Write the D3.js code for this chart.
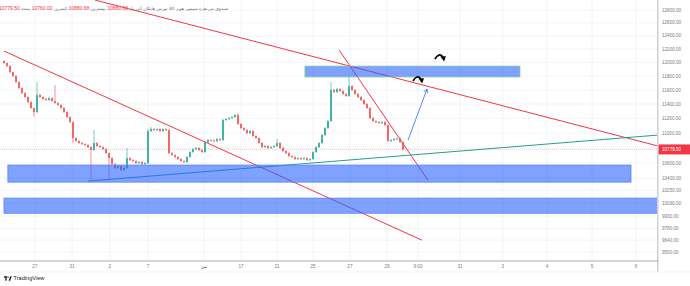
<!DOCTYPE html>
<html>
<head>
<meta charset="utf-8">
<title>chart</title>
<script src="https://cdn.jsdelivr.net/npm/d3@7"></script>
<style>
  body { margin: 0; background: #fff; }
  text { font-family: "Liberation Sans", Arial, sans-serif; }
</style>
</head>
<body>
<svg width="690" height="286" id="mainsvg"></svg>
<script>
// candles (bar index = position in arrays)
const opens = [12020,11990,11946,11858,11800,11713,11627,11555,11499,11428,11344,11288,11527,11499,11470,11456,11484,11442,11414,11386,
  11344,11288,11218,11149,10932,10892,10865,10851,10838,10811,10771,10865,10825,10811,10784,10731,10665,10587,10535,10561,
  10509,10535,10665,10639,10626,10600,10613,10587,10600,11026,11054,11040,11054,11026,11054,11040,10731,10705,10679,10652,
  10626,10613,10679,10745,10784,10798,10771,10745,10878,10905,10900,10892,10918,10905,11177,11191,11205,11218,11246,11122,
  11067,11040,10999,11026,10959,10932,10865,10811,10825,10798,10811,10825,10865,10798,10758,10731,10692,10679,10652,10665,
  10652,10665,10639,10652,10745,10811,10865,10972,11067,11163,11598,11570,11612,11584,11541,11513,11656,11598,11541,11499,
  11456,11400,11344,11205,11163,11149,11136,11149,11108,10892,10905,10918,10925,10880.68]
const highs = [12035,12000,11960,11870,11815,11725,11640,11570,11510,11440,11355,11713,11545,11512,11490,11500,11495,11670,11425,11398,
  11356,11300,11230,11160,10945,10905,10878,10864,10850,10825,11040,10878,10838,10825,10798,10745,10679,10600,10574,10574,
  10548,10798,10679,10652,10639,10626,10626,10613,11054,11081,11067,11067,11067,11067,11067,11054,10745,10718,10692,10665,
  10639,10692,10758,10798,10811,10811,10784,10892,10918,10918,10912,10932,10932,11191,11205,11218,11232,11260,11274,11136,
  11081,11054,11040,11040,10972,10945,10878,10838,10838,10825,10838,10918,10878,10811,10771,10745,10705,10692,10679,10679,
  10679,10679,10665,10758,10825,10878,10986,11081,11177,11713,11612,11627,11627,11598,11556,11786,11670,11612,11556,11513,
  11470,11414,11358,11218,11177,11163,11163,11163,11122,10918,10932,10940,10940,10880.68]
const lows = [11975,11930,11840,11785,11700,11610,11540,11480,11410,11330,11218,11275,11485,11455,11440,11445,11430,11400,11370,11330,
  11275,11205,11135,10865,10878,10852,10838,10825,10798,10380,10760,10812,10798,10771,10718,10406,10574,10522,10522,10496,
  10496,10522,10626,10613,10587,10587,10574,10574,10587,11013,11026,11026,11013,11013,11026,10718,10692,10665,10639,10613,
  10600,10600,10665,10731,10771,10758,10731,10731,10865,10885,10878,10878,10892,10892,11163,11177,11191,11205,11108,11054,
  11026,10986,10986,10945,10918,10851,10798,10798,10784,10784,10798,10811,10784,10745,10718,10679,10665,10639,10639,10639,
  10639,10626,10626,10639,10731,10798,10851,10959,11054,11149,11556,11556,11570,11527,11499,11499,11584,11527,11484,11442,
  11386,11330,11191,11149,11136,11122,11122,11094,10878,10878,10892,10905,10866,10760]
const closes = [11990,11946,11858,11800,11713,11627,11555,11499,11428,11344,11288,11527,11499,11470,11456,11484,11442,11414,11386,11344,
  11288,11218,11149,10932,10892,10865,10851,10838,10811,10771,10865,10825,10811,10784,10731,10665,10587,10535,10561,10509,
  10535,10665,10639,10626,10600,10613,10587,10600,11026,11054,11040,11054,11026,11054,11040,10731,10705,10679,10652,10626,
  10613,10679,10745,10784,10798,10771,10745,10878,10905,10900,10892,10918,10905,11177,11191,11205,11218,11246,11122,11067,
  11040,10999,11026,10959,10932,10865,10811,10825,10798,10811,10825,10865,10798,10758,10731,10692,10679,10652,10665,10652,
  10665,10639,10652,10745,10811,10865,10972,11067,11163,11598,11570,11612,11584,11541,11513,11656,11598,11541,11499,11456,
  11400,11344,11205,11163,11149,11136,11149,11108,10892,10905,10918,10925,10880.68,10779.5]

// axes
const priceTicks = [12800,12600,12400,12200,12000,11800,11600,11400,11200,11000,10600,10400,10250,10090,9930,9780,9640,9500]
const gridPrices = [12800,12600,12400,12200,12000,11800,11600,11400,11200,11000,10800,10600,10400,10250,10090,9930,9780,9640,9500]
const timeTickIdx = [10.3,22.7,35.3,48,66.7,79,91,103,115.3,127.7,138,152,166.3,181,196,210.7]
const timeTickLabels = ['27','31','2','7','تیر','17','21','25','27','29','9:00','31','3','4','5','6']

// drawings: [barIndex, price]
const redLineA = [[0,12169],[139.3,9640]]
const redLineB = [[30.3,12959],[218,10825]]
const redLineC = [[111.7,12184],[141.3,10380]]
const greenLine = [[28,10367],[218,10972]]
const blueArrow = [[134.7,10905],[141,11612]]
// zones: [startIdx, endIdx, topPrice, bottomPrice]
const zones = [[100.3,172,11946,11786],[1.3,209,10574,10354],[0,222,10152,9965]]
const curvedArrows = [[138,11757],[145.3,12079]]

// legend
const symbolName = 'صندوق س.نقره سیمین هوبر 30 بورس هایکان آتی'
const legendItems = [['باز','10880.68'],['بیشترین','10880.68'],['کمترین','10760.00'],['بسته','10779.50']]

const svg = d3.select('#mainsvg')
const width = +svg.attr('width')
const height = +svg.attr('height')
const plotRight = 657
const plotBottom = 261

const x = d3.scaleLinear().domain([0, 218]).range([4, 658])
const y = d3.scaleLog().domain([9500, 12800]).range([252, 10])

svg.append('rect').attr('width', width).attr('height', height).attr('fill', '#fff')
svg.append('defs').append('clipPath').attr('id', 'plot')
  .append('rect').attr('width', plotRight).attr('height', plotBottom)

const g = svg.append('g').attr('clip-path', 'url(#plot)')

// grid
g.selectAll('.hgrid').data(gridPrices).join('line')
  .attr('class', 'hgrid')
  .attr('x1', 0).attr('x2', plotRight)
  .attr('y1', d => y(d)).attr('y2', d => y(d))
  .attr('stroke', '#eef1f6').attr('stroke-width', 0.8)
g.selectAll('.vgrid').data(timeTickIdx).join('line')
  .attr('class', 'vgrid')
  .attr('x1', d => x(d)).attr('x2', d => x(d))
  .attr('y1', 0).attr('y2', plotBottom)
  .attr('stroke', '#eef1f6').attr('stroke-width', 0.8)

const lastClose = closes[closes.length - 1]
g.append('line')
  .attr('x1', 0).attr('x2', plotRight)
  .attr('y1', y(lastClose)).attr('y2', y(lastClose))
  .attr('stroke', '#f5a3a8').attr('stroke-width', 0.6).attr('stroke-dasharray', '1,1')

// trend lines
const line = d3.line().x(d => x(d[0])).y(d => y(d[1]))
g.selectAll('.trend').data([redLineA, redLineB, redLineC]).join('path')
  .attr('class', 'trend')
  .attr('d', line).attr('fill', 'none')
  .attr('stroke', '#f23645').attr('stroke-width', 1)
g.append('path').attr('d', line(greenLine)).attr('fill', 'none')
  .attr('stroke', '#22a08c').attr('stroke-width', 1)

// candles
const candles = closes.map((c, i) => ({ i, o: opens[i], h: highs[i], l: lows[i], c }))
const col = d => d.c >= d.o ? '#26a69a' : '#ef5350'
g.selectAll('.wick').data(candles).join('line')
  .attr('class', 'wick')
  .attr('x1', d => x(d.i)).attr('x2', d => x(d.i))
  .attr('y1', d => y(d.h)).attr('y2', d => y(d.l))
  .attr('stroke', col).attr('stroke-width', 0.6)
g.selectAll('.body').data(candles).join('rect')
  .attr('class', 'body')
  .attr('x', d => x(d.i) - 0.8).attr('width', 1.6)
  .attr('y', d => y(Math.max(d.o, d.c)))
  .attr('height', d => Math.max(0.7, Math.abs(y(d.o) - y(d.c))))
  .attr('fill', col)

// zones
g.selectAll('.zone').data(zones).join('rect')
  .attr('class', 'zone')
  .attr('x', d => x(d[0])).attr('width', d => x(d[1]) - x(d[0]))
  .attr('y', d => y(d[2])).attr('height', d => y(d[3]) - y(d[2]))
  .attr('fill', 'rgba(41,98,255,0.6)')
  .attr('stroke', (d, i) => i === 0 ? '#8fd38f' : '#5a7ff2').attr('stroke-width', 0.8)

// blue arrow
const [ba0, ba1] = blueArrow
const bx0 = x(ba0[0]), by0 = y(ba0[1]), bx1 = x(ba1[0]), by1 = y(ba1[1])
const ang = Math.atan2(by1 - by0, bx1 - bx0)
const head = 4
g.append('path')
  .attr('d', `M${bx0},${by0}L${bx1},${by1}` +
    `M${bx1 - head * Math.cos(ang - 0.5)},${by1 - head * Math.sin(ang - 0.5)}L${bx1},${by1}` +
    `L${bx1 - head * Math.cos(ang + 0.5)},${by1 - head * Math.sin(ang + 0.5)}`)
  .attr('fill', 'none').attr('stroke', '#4677f5').attr('stroke-width', 0.9)

// black curved arrows
const ca = g.selectAll('.carrow').data(curvedArrows).join('g')
  .attr('class', 'carrow')
  .attr('transform', d => `translate(${x(d[0])},${y(d[1])})`)
ca.append('path').attr('d', 'M-5,2 Q-1,-5 3,0').attr('fill', 'none')
  .attr('stroke', '#000').attr('stroke-width', 1.7)
ca.append('path').attr('d', 'M0.5,-0.5 L6,-0.8 L4.2,4.5 Z').attr('fill', '#000')

// right axis
svg.append('line').attr('x1', 657.8).attr('x2', 657.8).attr('y1', 0).attr('y2', 272)
  .attr('stroke', '#d1d4dc').attr('stroke-width', 1.6)
svg.selectAll('.ptick').data(priceTicks).join('text')
  .attr('class', 'ptick')
  .attr('x', 662).attr('y', d => y(d)).attr('dy', '0.35em')
  .attr('font-size', 4.6).attr('fill', '#787b86')
  .text(d => d3.format('.2f')(d))
svg.append('rect').attr('x', 658.6).attr('y', y(lastClose) - 5).attr('width', 31.4).attr('height', 10)
  .attr('fill', '#f23645')
svg.append('text').attr('x', 662).attr('y', y(lastClose)).attr('dy', '0.35em')
  .attr('font-size', 4.6).attr('fill', '#fff').text(d3.format('.2f')(lastClose))

// time axis
svg.append('line').attr('x1', 0).attr('x2', 658).attr('y1', plotBottom).attr('y2', plotBottom)
  .attr('stroke', '#9598a1').attr('stroke-width', 0.8)
svg.append('line').attr('x1', 0).attr('x2', 690).attr('y1', 272).attr('y2', 272)
  .attr('stroke', '#eceff4').attr('stroke-width', 0.8)
svg.selectAll('.ttick').data(timeTickIdx).join('text')
  .attr('class', 'ttick')
  .attr('x', d => x(d)).attr('y', 266.5).attr('dy', '0.35em')
  .attr('text-anchor', 'middle')
  .attr('font-size', (d, i) => /\d/.test(timeTickLabels[i]) ? 4.6 : 5.4)
  .attr('fill', (d, i) => /\d/.test(timeTickLabels[i]) ? '#787b86' : '#4a4d57')
  .style('font-family', (d, i) => /\d/.test(timeTickLabels[i]) ? null : 'DejaVu Sans')
  .text((d, i) => timeTickLabels[i])

// legend (laid out left to right as shown)
const legend = svg.append('g')
let lx = -1
const addText = (s, color, fam, size) => {
  const t = legend.append('text').attr('x', lx).attr('y', 8).attr('dy', '0.35em')
    .attr('font-size', size).attr('fill', color).text(s)
  if (fam) t.style('font-family', fam)
  lx += t.node().getComputedTextLength() + 1.5
}
legendItems.slice().reverse().forEach(([k, v]) => {
  addText(v, '#f23645', null, 5)
  addText(k, '#6a6d78', 'DejaVu Sans', 4.4)
})
addText(symbolName, '#6a6d78', 'DejaVu Sans', 4.4)

// TradingView logo
const logo = svg.append('g').attr('transform', 'translate(4,278.5)')
logo.append('rect').attr('x', 0).attr('y', -2.2).attr('width', 2.6).attr('height', 1.3).attr('fill', '#131722')
logo.append('rect').attr('x', 1.3).attr('y', -2.2).attr('width', 1.3).attr('height', 4.4).attr('fill', '#131722')
logo.append('circle').attr('cx', 4).attr('cy', -1.5).attr('r', 0.7).attr('fill', '#131722')
logo.append('path').attr('d', 'M4.6,2.2 L6.3,-2.2 L7.8,-2.2 L6.1,2.2 Z').attr('fill', '#131722')
logo.append('text').attr('x', 9.5).attr('y', 0).attr('dy', '0.35em')
  .attr('font-size', 5.6).attr('fill', '#131722').text('TradingView')
</script>
</body>
</html>
